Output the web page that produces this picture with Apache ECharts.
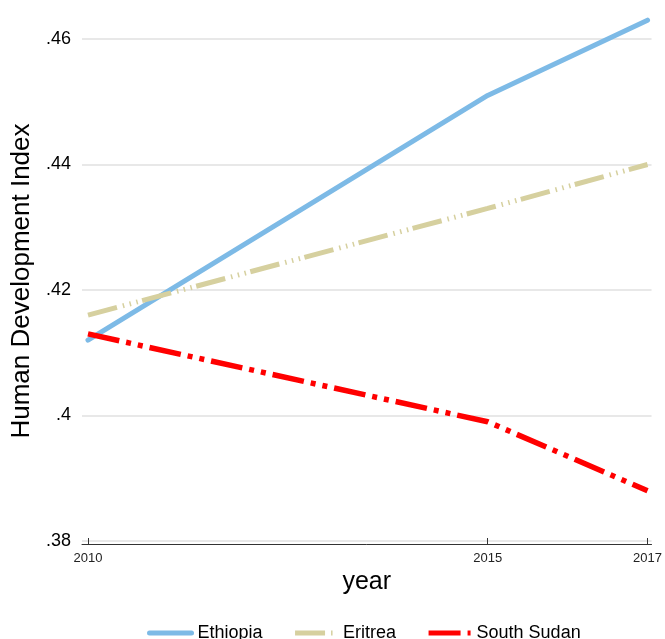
<!DOCTYPE html>
<html>
<head>
<meta charset="utf-8">
<script src="https://cdn.jsdelivr.net/npm/echarts@6/dist/echarts.min.js"></script>
<style>
html,body{margin:0;padding:0;background:#fff;}
#chart{width:665px;height:639px;}
</style>
</head>
<body>
<div id="chart"></div>
<script>
var years = [2010, 2015, 2017];
var xTickValues = [2010, 2015, 2017];
var ethiopia = [0.412, 0.451, 0.463];
var eritrea = [0.416, 0.433, 0.440];
var southSudan = [0.413, 0.399, 0.388];
var seriesNames = ['Ethiopia', 'Eritrea', 'South Sudan'];

function pairs(vals) { return years.map(function (y, i) { return [y, vals[i]]; }); }

var FONT = 'Arial, "Liberation Sans", Helvetica, sans-serif';
var chart = echarts.init(document.getElementById('chart'), null, {renderer: 'canvas'});
chart.setOption({
  animation: false,
  backgroundColor: '#fff',
  textStyle: {fontFamily: FONT},
  grid: {left: 82, right: 13, top: 39, bottom: 98, containLabel: false},
  legend: {
    data: seriesNames,
    left: 142,
    top: 619,
    itemWidth: 42,
    itemHeight: 20,
    itemGap: 30,
    itemStyle: {opacity: 0},
    lineStyle: {width: 5},
    textStyle: {fontSize: 18, color: '#000', fontFamily: FONT, padding: [0, 0, 0, 1]}
  },
  xAxis: {
    type: 'value',
    min: 2009.925,
    max: 2017.05,
    offset: 3,
    name: 'year',
    nameLocation: 'middle',
    nameGap: 24,
    nameTextStyle: {fontSize: 25, color: '#000', fontFamily: FONT},
    axisLine: {show: true, lineStyle: {color: '#333', width: 1}},
    axisTick: {show: true, inside: true, length: 6, customValues: xTickValues, lineStyle: {color: '#333'}},
    axisLabel: {
      customValues: xTickValues, fontSize: 13, color: '#222', margin: 8, fontFamily: FONT,
      formatter: function (v) { return String(Math.round(v)); }
    },
    splitLine: {show: false}
  },
  yAxis: {
    type: 'value',
    min: 0.38,
    max: 0.46,
    interval: 0.02,
    name: 'Human Development Index',
    nameLocation: 'middle',
    nameGap: 44,
    nameTextStyle: {fontSize: 26, color: '#000', fontFamily: FONT, padding: [0, 0, 0, 18]},
    axisLine: {show: false},
    axisTick: {show: false},
    axisLabel: {
      fontSize: 18, color: '#000', margin: 11, fontFamily: FONT,
      formatter: function (v) { return String(+v.toFixed(2)).replace(/^0/, ''); }
    },
    splitLine: {show: true, lineStyle: {color: '#e0e0e0', width: 1.5}}
  },
  series: [
    {
      name: 'Ethiopia', type: 'line', data: pairs(ethiopia),
      symbol: 'none', clip: false, color: '#7dbae6',
      lineStyle: {color: '#7dbae6', width: 5, cap: 'round', join: 'round'}
    },
    {
      name: 'Eritrea', type: 'line', data: pairs(eritrea),
      symbol: 'none', clip: false, color: '#d6d09f',
      lineStyle: {color: '#d6d09f', width: 5, cap: 'butt', type: [30, 6, 1.5, 5.5, 1.5, 5.5, 1.5, 4.5]}
    },
    {
      name: 'South Sudan', type: 'line', data: pairs(southSudan),
      symbol: 'none', clip: false, color: '#ff0000',
      lineStyle: {color: '#ff0000', width: 5.5, cap: 'butt', type: [32, 7, 5, 7, 5, 7]}
    }
  ]
});
</script>
</body>
</html>
